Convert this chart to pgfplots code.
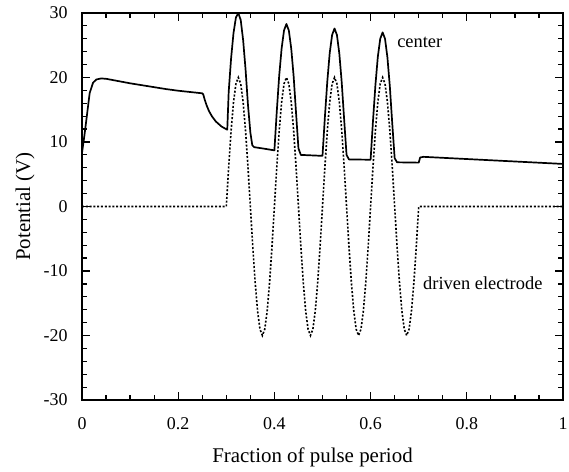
\documentclass[border=0pt]{standalone}
\usepackage{fontspec}
\setmainfont{Liberation Serif}
\usepackage{pgfplots}
\pgfplotsset{compat=1.18}
\begin{document}
\begin{tikzpicture}
\path[use as bounding box] (-82bp,-72bp) rectangle (487bp,400bp);
\begin{axis}[
  at={(0,0)}, anchor=south west,
  scale only axis, width=481bp, height=387bp,
  xmin=0, xmax=1, ymin=-30, ymax=30,
  xtick={0,0.2,0.4,0.6,0.8,1},
  ytick={-30,-20,-10,0,10,20,30},
  minor x tick num=3, minor y tick num=4,
  tick align=inside, tick pos=both,
  major tick length=8bp, minor tick length=5bp,
  every tick/.style={line width=1.2bp, black},
  axis line style={line width=1.5bp},
  /pgf/number format/assume math mode=true,
  ticklabel style={font=\fontsize{18}{21}\selectfont},
  xticklabel style={yshift=-14bp},
  yticklabel style={xshift=-11bp},
  xlabel={Fraction of pulse period},
  ylabel={Potential (V)},
  label style={font=\fontsize{21}{24}\selectfont},
  xlabel style={at={(axis description cs:0.5,0)}, anchor=center, yshift=-57bp, xshift=-10bp},
  ylabel style={at={(axis description cs:0,0.5)}, anchor=center, rotate=0, yshift=57bp},
  clip=false,
]
% driven electrode
\addplot[black, line width=1.6bp, dash pattern=on 2bp off 1.8bp] coordinates {
(0,0) (0.3,0)
(0.305,6.18) (0.31,11.76) (0.315,16.18) (0.32,19.02) (0.325,20) (0.33,19.02) (0.335,16.18) (0.34,11.76) (0.345,6.18)
(0.35,0) (0.355,-6.18) (0.36,-11.76) (0.365,-16.18) (0.37,-19.02) (0.375,-20) (0.38,-19.02) (0.385,-16.18) (0.39,-11.76) (0.395,-6.18)
(0.4,0) (0.405,6.18) (0.41,11.76) (0.415,16.18) (0.42,19.02) (0.425,20) (0.43,19.02) (0.435,16.18) (0.44,11.76) (0.445,6.18)
(0.45,0) (0.455,-6.18) (0.46,-11.76) (0.465,-16.18) (0.47,-19.02) (0.475,-20) (0.48,-19.02) (0.485,-16.18) (0.49,-11.76) (0.495,-6.18)
(0.5,0) (0.505,6.18) (0.51,11.76) (0.515,16.18) (0.52,19.02) (0.525,20) (0.53,19.02) (0.535,16.18) (0.54,11.76) (0.545,6.18)
(0.55,0) (0.555,-6.18) (0.56,-11.76) (0.565,-16.18) (0.57,-19.02) (0.575,-20) (0.58,-19.02) (0.585,-16.18) (0.59,-11.76) (0.595,-6.18)
(0.6,0) (0.605,6.18) (0.61,11.76) (0.615,16.18) (0.62,19.02) (0.625,20) (0.63,19.02) (0.635,16.18) (0.64,11.76) (0.645,6.18)
(0.65,0) (0.655,-6.18) (0.66,-11.76) (0.665,-16.18) (0.67,-19.02) (0.675,-20) (0.68,-19.02) (0.685,-16.18) (0.69,-11.76) (0.695,-6.18)
(0.7,0) (1,0)
};
% center
\addplot[black, line width=1.7bp, line join=round] coordinates {
(0.000,8.3) (0.005,11.0) (0.009,13.4) (0.016,17.6) (0.023,19.2) (0.030,19.7) (0.040,19.85) (0.050,19.8)
(0.075,19.45) (0.100,19.1) (0.125,18.8) (0.150,18.5) (0.175,18.2) (0.200,17.95) (0.225,17.75) (0.250,17.55)
(0.252,17.4) (0.255,16.6) (0.259,15.7) (0.264,14.8) (0.270,14.0) (0.278,13.2) (0.290,12.4) (0.302,11.9)
(0.305,17.8) (0.310,23.0) (0.315,26.9) (0.320,29.3) (0.325,30.0) (0.330,28.9) (0.335,25.8) (0.340,21.3) (0.345,15.8)
(0.350,11.5) (0.354,9.5) (0.358,9.2) (0.380,8.95) (0.400,8.7)
(0.405,14.8) (0.410,20.3) (0.415,24.5) (0.420,27.3) (0.425,28.3) (0.430,27.3) (0.435,24.5) (0.440,20.2) (0.445,14.5)
(0.450,9.0) (0.455,8.0) (0.500,7.85)
(0.505,13.9) (0.510,19.4) (0.515,23.8) (0.520,26.6) (0.525,27.6) (0.530,26.6) (0.535,23.7) (0.540,19.2) (0.545,13.5)
(0.550,8.0) (0.555,7.3) (0.600,7.25)
(0.605,13.3) (0.610,18.8) (0.615,23.2) (0.620,26.0) (0.625,27.0) (0.630,26.0) (0.635,23.1) (0.640,18.6) (0.645,12.9)
(0.650,7.5) (0.655,6.85) (0.700,6.8)
(0.703,7.6) (0.710,7.7) (1.000,6.6)
};
\node[anchor=west, font=\fontsize{18.5}{22}\selectfont, inner sep=0pt] at (axis cs:0.655,25.4) {center};
\node[anchor=west, font=\fontsize{18.5}{22}\selectfont, inner sep=0pt] at (axis cs:0.709,-11.9) {driven electrode};
\end{axis}
\end{tikzpicture}
\end{document}
